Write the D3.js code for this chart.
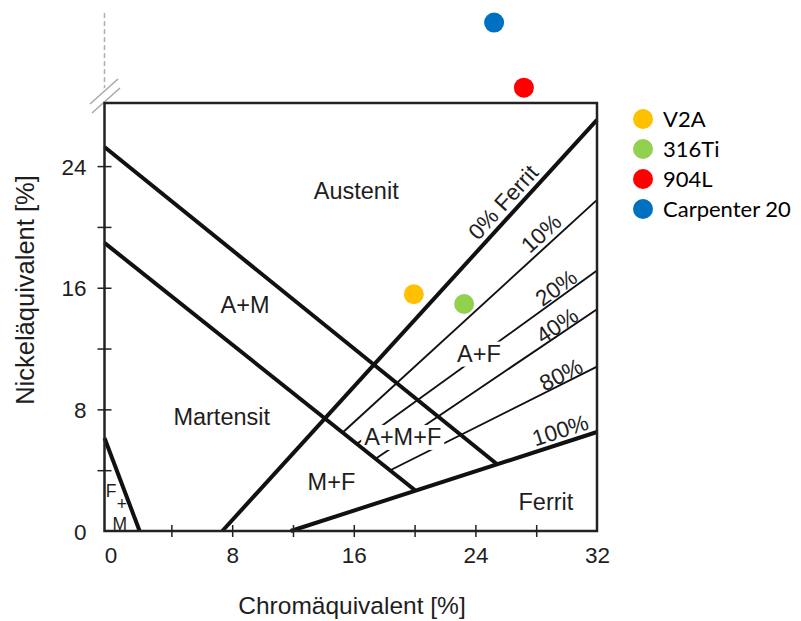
<!DOCTYPE html>
<html><head><meta charset="utf-8">
<script src="https://cdn.jsdelivr.net/npm/d3@7"></script>
<style>
body{margin:0;background:#fff}
svg{display:block}
text{font-family:"Liberation Sans",Arial,sans-serif;fill:#1e1e1e}
</style></head>
<body><svg id="chart" width="801" height="621"></svg>
<script>
// ---------- data ----------
const alloyNames = ["V2A", "316Ti", "904L", "Carpenter 20"];
const alloyCr = [19.95, 23.26, 27.19, 25.23];
const alloyNi = [15.57, 14.93, 29.16, 33.44];
const alloyColors = ["#FFC000", "#92D050", "#FF0000", "#0070C0"];

// phase boundary / iso-ferrite lines (Cr-eq, Ni-eq endpoints)
const lineIds = ["A|A+M", "A+M|M", "F+M", "0%", "100%", "10%", "20%", "40%", "80%"];
const lineCr1 = [-0.4, -0.4, -0.4, 7.35, 11.85, 15.27, 16.19, 17.41, 18.37];
const lineNi1 = [25.26, 18.95, 6.12, 0, 0, 6.48, 5.72, 4.74, 3.98];
const lineCr2 = [25.41, 20.01, 1.91, 32, 32, 32, 32, 32, 32];
const lineNi2 = [4.41, 2.70, 0, 27.04, 6.51, 21.78, 17.13, 14.59, 10.81];
const lineHeavy = [true, true, true, true, true, false, false, false, false];

// iso-ferrite labels
const ferriteLabels = ["0% Ferrit", "10%", "20%", "40%", "80%", "100%"];
const ferriteLabelLine = [3, 5, 6, 7, 8, 4];
const ferriteLabelCr = [26.5, 28.9, 29.7, 29.7, 29.9, 29.85];

// region labels
const regionNames = ["Austenit", "A+M", "Martensit", "M+F", "A+M+F", "A+F", "Ferrit"];
const regionCr = [16.16, 8.85, 7.31, 14.53, 19.22, 24.23, 28.64];
const regionNi = [21.84, 14.34, 6.97, 2.70, 5.66, 11.14, 1.38];
// stacked "F + M" label in the small corner region
const cornerParts = ["F", "+", "M"];
const cornerCr = [0.03, 0.75, 0.6];
const cornerNi = [2.24, 1.38, 0.07];

const xTickValues = [4, 8, 12, 16, 20, 24, 28];
const xTickLabels = [0, 8, 16, 24, 32];
const yTickValues = [4, 8, 12, 16, 20, 24];
const yTickLabels = [0, 8, 16, 24];

// ---------- chart ----------
const svg = d3.select("#chart");
const L = 104.5, R = 597, T = 103, B = 531;
const x = d3.scaleLinear().domain([-0.4, 32]).range([L, R]);
const y = d3.scaleLinear().domain([0, 28.15]).range([B, T]);

// axis break (dashed extension + break marks)
svg.append("line").attr("x1", L).attr("x2", L).attr("y1", 13).attr("y2", 88)
  .attr("stroke", "#b0b0b0").attr("stroke-width", 1.5).attr("stroke-dasharray", "5,3");
[[0, 0], [2, 9]].forEach(([dx, dy]) => {
  svg.append("line").attr("x1", 90 + dx).attr("y1", 104 + dy).attr("x2", 118 + dx).attr("y2", 79 + dy)
    .attr("stroke", "#a8a8a8").attr("stroke-width", 1.5);
});

const lines = lineIds.map((id, i) => ({id, x1: lineCr1[i], y1: lineNi1[i], x2: lineCr2[i], y2: lineNi2[i], heavy: lineHeavy[i]}));

// thin lines first
svg.append("g").selectAll("line").data(lines.filter(d => !d.heavy)).join("line")
  .attr("x1", d => x(d.x1)).attr("y1", d => y(d.y1)).attr("x2", d => x(d.x2)).attr("y2", d => y(d.y2))
  .attr("stroke", "#111").attr("stroke-width", 1.9);

// region labels
const regions = regionNames.map((n, i) => ({n, cx: regionCr[i], cy: regionNi[i]}));
const rg = svg.append("g");
const bgG = rg.append("g");
const heavyG = rg.append("g");
const txtG = rg.append("g");
const rt = txtG.selectAll("text.region").data(regions).join("text").attr("class", "region")
  .attr("x", d => x(d.cx)).attr("y", d => y(d.cy))
  .attr("text-anchor", "middle")
  .attr("font-size", 23.5)
  .text(d => d.n);
rt.filter(d => d.n === "A+F" || d.n === "A+M+F").each(function () {
  const b = this.getBBox();
  bgG.append("rect").attr("x", b.x - 3).attr("y", b.y + 1).attr("width", b.width + 6).attr("height", b.height - 1)
    .attr("fill", "#fff");
});
txtG.selectAll("text.corner").data(cornerParts).join("text").attr("class", "corner")
  .attr("text-anchor", "middle").attr("font-size", 17.5)
  .attr("x", (d, i) => x(cornerCr[i])).attr("y", (d, i) => y(cornerNi[i])).text(d => d);

// heavy lines
heavyG.selectAll("line").data(lines.filter(d => d.heavy)).join("line")
  .attr("x1", d => x(d.x1)).attr("y1", d => y(d.y1)).attr("x2", d => x(d.x2)).attr("y2", d => y(d.y2))
  .attr("stroke", "#111").attr("stroke-width", 4).attr("stroke-linecap", "butt");

// ferrite labels along lines
const offs = [14, 13, 10, 9, 9, 13];
ferriteLabels.forEach((lab, i) => {
  const ln = lines[ferriteLabelLine[i]];
  const lx = ferriteLabelCr[i];
  const t = (lx - ln.x1) / (ln.x2 - ln.x1);
  const ly = ln.y1 + t * (ln.y2 - ln.y1);
  const ang = Math.atan2(y(ln.y2) - y(ln.y1), x(ln.x2) - x(ln.x1)) * 180 / Math.PI;
  svg.append("text")
    .attr("transform", `translate(${x(lx)},${y(ly)}) rotate(${ang})`)
    .attr("y", -offs[i]).attr("dy", "0.35em")
    .attr("text-anchor", "middle").attr("font-size", 22.5)
    .text(lab);
});

// frame
svg.append("rect").attr("x", L).attr("y", T).attr("width", R - L).attr("height", B - T)
  .attr("fill", "none").attr("stroke", "#222").attr("stroke-width", 2.5);

// x axis ticks
const xa = svg.append("g").attr("transform", `translate(0,${B})`)
  .call(d3.axisBottom(x).tickValues(xTickValues).tickSize(6).tickSizeOuter(0).tickFormat(""));
xa.select(".domain").remove();
xa.selectAll(".tick line").attr("y1", -6).attr("y2", 6).attr("stroke", "#222").attr("stroke-width", 1.5);
const xl = svg.append("g").attr("transform", `translate(0,${B})`)
  .call(d3.axisBottom(x).tickValues(xTickLabels).tickSize(0).tickFormat(d3.format("d")));
xl.select(".domain").remove();
xl.selectAll(".tick text").attr("y", 32).attr("dy", 0).attr("font-size", 22.5)
  .attr("font-family", "Liberation Sans, Arial, sans-serif").attr("fill", "#1e1e1e");

// y axis ticks
const ya = svg.append("g").attr("transform", `translate(${L},0)`)
  .call(d3.axisLeft(y).tickValues(yTickValues).tickSize(7).tickSizeOuter(0).tickFormat(""));
ya.select(".domain").remove();
ya.selectAll(".tick line").attr("x1", -7).attr("x2", 7).attr("stroke", "#222").attr("stroke-width", 1.5);
const yl = svg.append("g").attr("transform", `translate(${L},0)`)
  .call(d3.axisLeft(y).tickValues(yTickLabels).tickSize(0).tickFormat(d3.format("d")));
yl.select(".domain").remove();
yl.selectAll(".tick text").attr("x", -18).attr("dy", "0.36em").attr("font-size", 22.5)
  .attr("font-family", "Liberation Sans, Arial, sans-serif").attr("fill", "#1e1e1e");

// axis titles
svg.append("text").attr("x", 352).attr("y", 614).attr("text-anchor", "middle").attr("font-size", 24.5)
  .text("Chromäquivalent [%]");
svg.append("text").attr("transform", "translate(34,290) rotate(-90)").attr("text-anchor", "middle").attr("font-size", 25.5)
  .text("Nickeläquivalent [%]");

// alloy points
svg.append("g").selectAll("circle").data(alloyNames.map((n, i) => ({n, cr: alloyCr[i], ni: alloyNi[i], c: alloyColors[i]})))
  .join("circle").attr("cx", d => x(d.cr)).attr("cy", d => y(d.ni)).attr("r", 10).attr("fill", d => d.c);

// legend
const lg = svg.append("g").attr("transform", "translate(643,119)");
const li = lg.selectAll("g").data(alloyNames).join("g").attr("transform", (d, i) => `translate(0,${i * 30})`);
li.append("circle").attr("r", 10).attr("fill", (d, i) => alloyColors[i]);
li.append("text").attr("x", 20).attr("dy", "0.36em").attr("font-size", 22)
  .style("font-family", "Lato, 'Open Sans', sans-serif").style("fill", "#000").text(d => d);
</script></body></html>
